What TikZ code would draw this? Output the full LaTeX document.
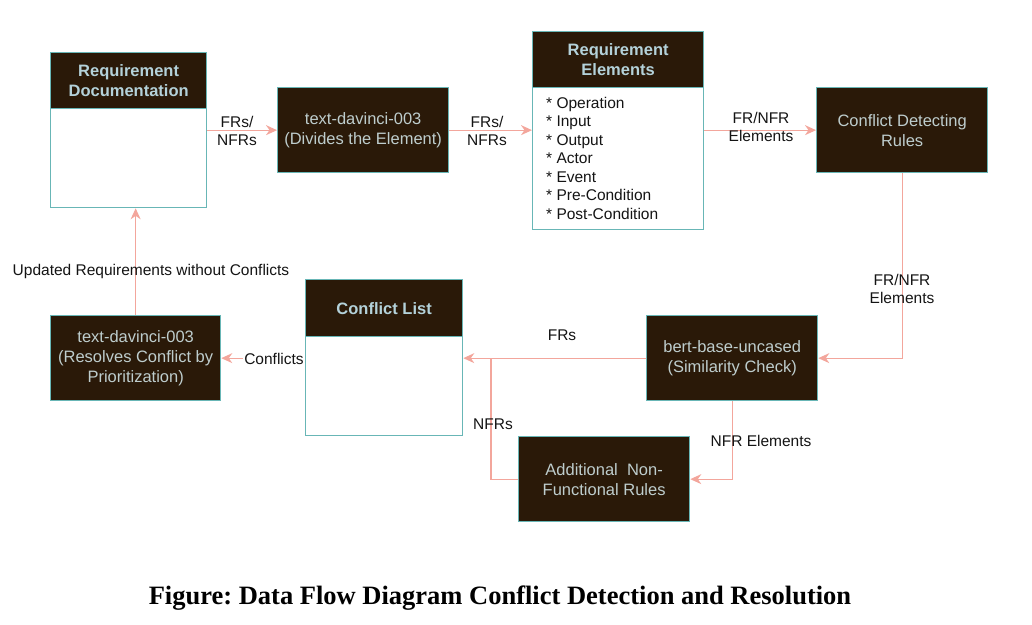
\documentclass[tikz,border=0pt]{standalone}
\usepackage{fontspec}
\setmainfont{Liberation Serif}
\setsansfont{Liberation Sans}
\usetikzlibrary{arrows.meta}
\definecolor{darkc}{RGB}{42,25,8}
\definecolor{bordc}{RGB}{104,182,182}
\definecolor{txtc}{RGB}{190,205,205}
\definecolor{hdrc}{RGB}{180,210,218}
\definecolor{arrc}{RGB}{243,166,156}
\definecolor{lblc}{RGB}{20,20,20}
\tikzset{
  darkbox/.style={draw=bordc, fill=darkc, text=txtc, line width=1.3pt, inner sep=0pt,
    anchor=north west, align=center, font=\sffamily\fontsize{16.5}{20}\selectfont},
  hdrbox/.style={darkbox, text=hdrc, font=\sffamily\bfseries\fontsize{16.5}{20}\selectfont},
  bodybox/.style={draw=bordc, fill=white, line width=1.3pt, inner sep=0pt, anchor=north west},
  flow/.style={draw=arrc, line width=1.3pt, -{Stealth[length=11pt,width=10pt,inset=3.5pt]}},
  plainline/.style={draw=arrc, line width=1.3pt},
  lbl/.style={text=lblc, align=center, inner sep=0pt, font=\sffamily\fontsize{15.5}{18.5}\selectfont},
}
\frenchspacing
\begin{document}
\begin{tikzpicture}[x=1pt,y=-1pt]
\useasboundingbox (0,0) rectangle (1032,624);
% Requirement Documentation
\node[hdrbox, minimum width=156pt, minimum height=56pt] (rdhead) at (50,52) {Requirement\\Documentation};
\node[bodybox, minimum width=156pt, minimum height=99pt] (rdbody) at (50,108) {};
% text-davinci-003 (Divides)
\node[darkbox, minimum width=171pt, minimum height=85pt] (td1) at (277,87) {text-davinci-003\\(Divides the Element)};
% Requirement Elements
\node[hdrbox, minimum width=171pt, minimum height=56pt] (rehead) at (532,31) {Requirement\\Elements};
\node[bodybox, minimum width=171pt, minimum height=142pt] (rebody) at (532,87) {};
\node[lbl, align=left, anchor=west] (relist) at (546,158) {* Operation\\* Input\\* Output\\* Actor\\* Event\\* Pre-Condition\\* Post-Condition};
% Conflict Detecting Rules
\node[darkbox, minimum width=171pt, minimum height=85pt] (cdr) at (816,87) {Conflict Detecting\\Rules};
% Conflict List
\node[hdrbox, minimum width=157pt, minimum height=57pt] (clhead) at (305,279) {Conflict List};
\node[bodybox, minimum width=157pt, minimum height=99pt] (clbody) at (305,336) {};
% bert
\node[darkbox, minimum width=171pt, minimum height=85pt] (bert) at (646,315) {bert-base-uncased\\(Similarity Check)};
% Additional Non-Functional Rules
\node[darkbox, minimum width=171pt, minimum height=85pt] (anr) at (518,436) {Additional\ \ Non-\\Functional Rules};
% text-davinci-003 (Resolves)
\node[darkbox, minimum width=170pt, minimum height=85pt] (td2) at (50,315) {text-davinci-003\\(Resolves Conflict by\\Prioritization)};
% connectors
\draw[flow] (rdbody.east |- td1.west) -- (td1.west);
\draw[flow] (td1.east) -- (rebody.west |- td1.east);
\draw[flow] (rebody.east |- cdr.west) -- (cdr.west);
\draw[flow] (cdr.south) |- (bert.east);
\draw[flow] (bert.west) -- (bert.west -| clbody.east);
\coordinate (j) at (491,357.5);
\draw[plainline] (anr.west) -| (j);
\draw[flow] (bert.south) |- (anr.east);
\draw[flow] (clbody.west |- td2.east) -- (td2.east);
\draw[flow] (td2.north) -- (td2.north |- rdbody.south);
% labels
\node[lbl] (l1) at (237,131) {FRs/\\NFRs};
\node[lbl] (l2) at (487,131) {FRs/\\NFRs};
\node[lbl] (l3) at (761,127) {FR/NFR\\Elements};
\node[lbl] (l4) at (902,289) {FR/NFR\\Elements};
\node[lbl] (l5) at (562,335) {FRs};
\node[lbl] (l6) at (493,424) {NFRs};
\node[lbl] (l7) at (761,441) {NFR Elements};
\node[lbl, fill=white, inner xsep=1pt, inner ysep=2pt] (l8) at (274,359) {Conflicts};
\node[lbl] (l9) at (151,271) {Updated Requirements without Conflicts};
% caption
\node[inner sep=0pt, font=\rmfamily\bfseries\fontsize{26.5}{30}\selectfont] (cap) at (500,598) {Figure: Data Flow Diagram Conflict Detection and Resolution};
\end{tikzpicture}
\end{document}
